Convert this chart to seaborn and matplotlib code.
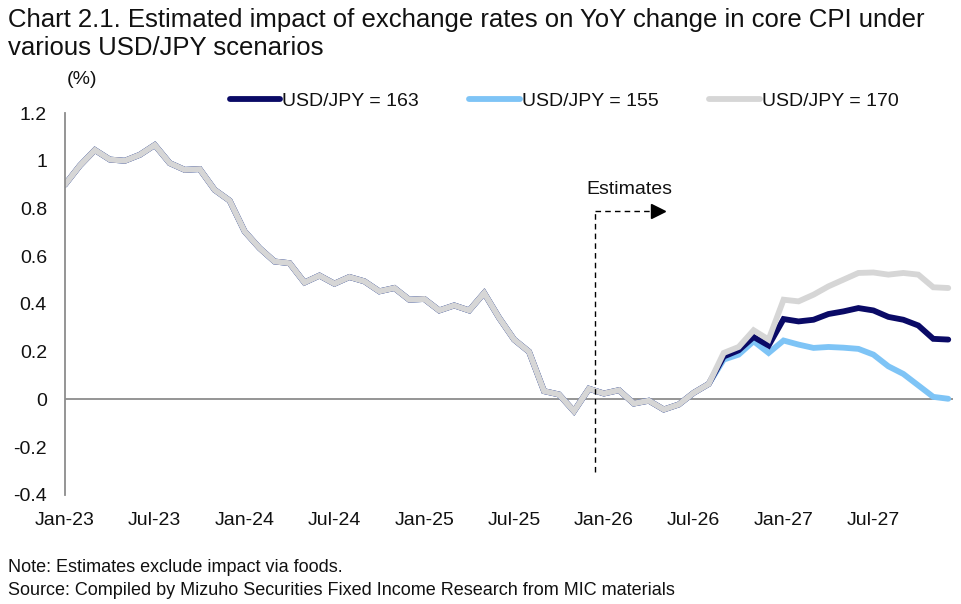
import numpy as np
import pandas as pd
import matplotlib
matplotlib.use('Agg')
import matplotlib.pyplot as plt
import seaborn as sns

# monthly points, Jan-23 .. Dec-27
months = pd.date_range('2023-01-01', periods=60, freq='MS')

# actual path shared by all scenarios (Jan-23 .. Aug-26)
history = [0.90, 0.98, 1.045, 1.005, 1.00, 1.025, 1.066, 0.99, 0.962, 0.965,
           0.878, 0.833, 0.704, 0.634, 0.578, 0.571, 0.49, 0.519, 0.485, 0.513,
           0.495, 0.453, 0.467, 0.418, 0.421, 0.373, 0.394, 0.373, 0.446, 0.342,
           0.251, 0.20, 0.035, 0.021, -0.049, 0.045, 0.025, 0.039, -0.017, -0.005,
           -0.042, -0.021, 0.028, 0.065]

# scenario paths (Sep-26 .. Dec-27)
usdjpy_163 = [0.18, 0.206, 0.262, 0.226, 0.337, 0.327, 0.334, 0.358,
              0.369, 0.383, 0.373, 0.346, 0.334, 0.31, 0.254, 0.251]
usdjpy_155 = [0.167, 0.188, 0.244, 0.195, 0.247, 0.23, 0.216, 0.22,
              0.217, 0.212, 0.188, 0.139, 0.107, 0.059, 0.011, 0.003]
usdjpy_170 = [0.195, 0.22, 0.29, 0.251, 0.418, 0.411, 0.439, 0.474,
              0.502, 0.53, 0.532, 0.523, 0.53, 0.523, 0.47, 0.467]

scenarios = {
    'USD/JPY = 163': (usdjpy_163, '#0A0A66'),
    'USD/JPY = 155': (usdjpy_155, '#7EC4F6'),
    'USD/JPY = 170': (usdjpy_170, '#D6D6D6'),
}
draw_order = ['USD/JPY = 155', 'USD/JPY = 163', 'USD/JPY = 170']
legend_order = ['USD/JPY = 163', 'USD/JPY = 155', 'USD/JPY = 170']

sns.set_theme(style='white')
plt.rcParams['font.family'] = ['Liberation Sans', 'DejaVu Sans']

fig = plt.figure(figsize=(9.61, 6.04), dpi=100)
ax = fig.add_axes([0.0676, 0.1805, 0.9238, 0.6324])

x = np.arange(len(months))
handles = {}
for name in draw_order:
    values, color = scenarios[name]
    df = pd.DataFrame({'x': x, 'y': history + values})
    sns.lineplot(data=df, x='x', y='y', ax=ax, color=color, linewidth=4.2,
                 label=name, solid_joinstyle='miter')
    handles[name] = ax.lines[-1]

ax.axhline(0, color='#8C8C8C', linewidth=1.3, zorder=0)

# estimates marker
ax.plot([35.4, 35.4], [-0.305, 0.79], color='black', linestyle=(0, (4, 3)), linewidth=1)
ax.plot([35.4, 39.4], [0.79, 0.79], color='black', linestyle=(0, (4, 3)), linewidth=1)
ax.plot([39.6], [0.79], marker='>', color='black', markersize=10)
ax.text(37.7, 0.878, 'Estimates', ha='center', va='center', fontsize=14, color='#111111')

ax.set_xlim(0, 59.3)
ax.set_ylim(-0.4, 1.2)
ax.set_yticks(np.arange(-0.4, 1.21, 0.2))
ax.set_yticklabels([f'{v:.1f}'.rstrip('0').rstrip('.') if abs(v) > 1e-9 else '0'
                    for v in np.arange(-0.4, 1.21, 0.2)])
ax.set_xticks(x[::6])
ax.set_xticklabels(months[::6].strftime('%b-%y'))
ax.tick_params(axis='y', length=0, pad=13, labelsize=14, labelcolor='#111111')
ax.tick_params(axis='x', length=0, pad=12, labelsize=14, labelcolor='#111111')
ax.set_xlabel('')
ax.set_ylabel('')

for side in ['top', 'right', 'bottom']:
    ax.spines[side].set_visible(False)
ax.spines['left'].set_color('#8C8C8C')
ax.spines['left'].set_linewidth(1.3)

ax.legend([handles[n] for n in legend_order], legend_order, ncol=3, frameon=False,
          loc='center', bbox_to_anchor=(0.587, 0.832), bbox_transform=fig.transFigure,
          fontsize=14, handlelength=2.6, handletextpad=0.1, columnspacing=2.6,
          labelcolor='#111111')

fig.text(0.008, 0.967, 'Chart 2.1. Estimated impact of exchange rates on YoY change in core CPI under',
         fontsize=18.5, va='center', color='#111111')
fig.text(0.008, 0.921, 'various USD/JPY scenarios', fontsize=18.5, va='center', color='#111111')
fig.text(0.085, 0.868, '(%)', fontsize=14, ha='center', va='center', color='#111111')
fig.text(0.008, 0.061, 'Note: Estimates exclude impact via foods.', fontsize=13, va='center',
         color='#111111')
fig.text(0.008, 0.023, 'Source: Compiled by Mizuho Securities Fixed Income Research from MIC materials',
         fontsize=13, va='center', color='#111111')

plt.savefig('out.png', dpi=100)
plt.close()
